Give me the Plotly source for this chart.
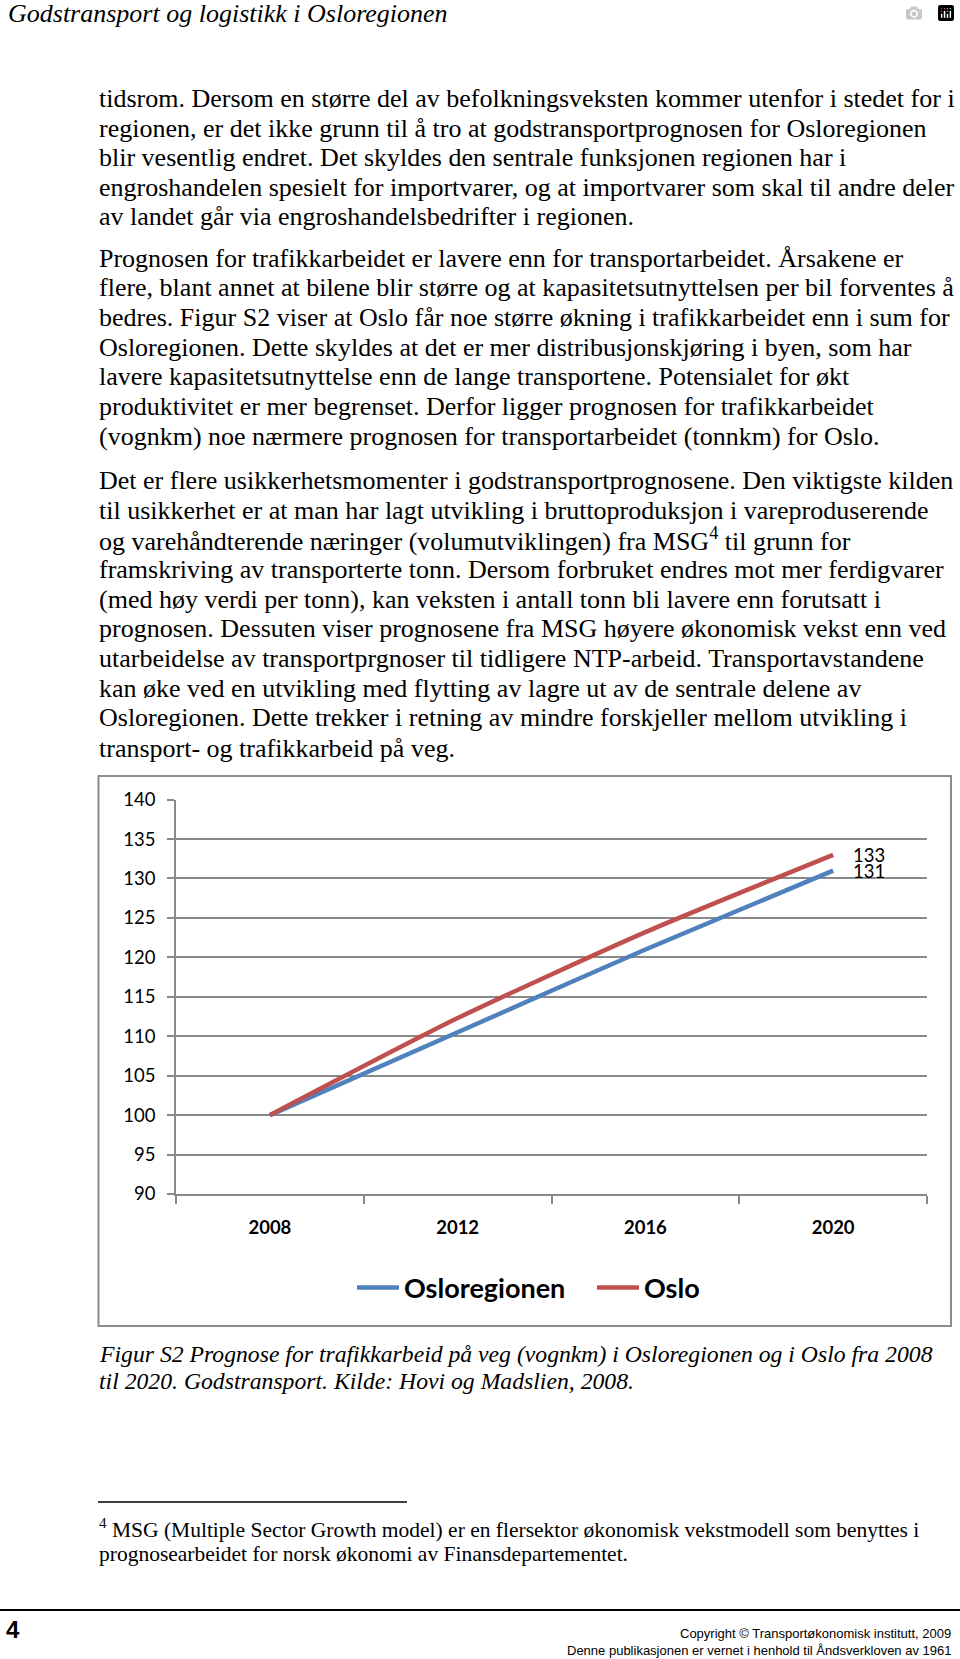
import plotly.graph_objects as go

years = ["2008", "2012", "2016", "2020"]
osloregionen = [100, 110.5, 121, 131]
oslo = [100, 112.3, 123.2, 133]
y_ticks = [90, 95, 100, 105, 110, 115, 120, 125, 130, 135, 140]

W, H = 960, 1659

header = "Godstransport og logistikk i Osloregionen"
body_lines = [
    (98.4, "tidsrom. Dersom en større del av befolkningsveksten kommer utenfor i stedet for i"),
    (128.1, "regionen, er det ikke grunn til å tro at godstransportprognosen for Osloregionen"),
    (157.7, "blir vesentlig endret. Det skyldes den sentrale funksjonen regionen har i"),
    (187.3, "engroshandelen spesielt for importvarer, og at importvarer som skal til andre deler"),
    (217.0, "av landet går via engroshandelsbedrifter i regionen."),
    (258.2, "Prognosen for trafikkarbeidet er lavere enn for transportarbeidet. Årsakene er"),
    (287.9, "flere, blant annet at bilene blir større og at kapasitetsutnyttelsen per bil forventes å"),
    (317.5, "bedres. Figur S2 viser at Oslo får noe større økning i trafikkarbeidet enn i sum for"),
    (347.2, "Osloregionen. Dette skyldes at det er mer distribusjonskjøring i byen, som har"),
    (376.8, "lavere kapasitetsutnyttelse enn de lange transportene. Potensialet for økt"),
    (406.4, "produktivitet er mer begrenset. Derfor ligger prognosen for trafikkarbeidet"),
    (436.1, "(vognkm) noe nærmere prognosen for transportarbeidet (tonnkm) for Oslo."),
    (480.5, "Det er flere usikkerhetsmomenter i godstransportprognosene. Den viktigste kilden"),
    (510.1, "til usikkerhet er at man har lagt utvikling i bruttoproduksjon i vareproduserende"),
    (539.8, "og varehåndterende næringer (volumutviklingen) fra MSG<sup>4</sup> til grunn for"),
    (569.4, "framskriving av transporterte tonn. Dersom forbruket endres mot mer ferdigvarer"),
    (599.1, "(med høy verdi per tonn), kan veksten i antall tonn bli lavere enn forutsatt i"),
    (628.7, "prognosen. Dessuten viser prognosene fra MSG høyere økonomisk vekst enn ved"),
    (658.3, "utarbeidelse av transportprgnoser til tidligere NTP-arbeid. Transportavstandene"),
    (688.0, "kan øke ved en utvikling med flytting av lagre ut av de sentrale delene av"),
    (717.6, "Osloregionen. Dette trekker i retning av mindre forskjeller mellom utvikling i"),
    (748.3, "transport- og trafikkarbeid på veg."),
]
caption_lines = [
    (1354.0, "Figur S2 Prognose for trafikkarbeid på veg (vognkm) i Osloregionen og i Oslo fra 2008"),
    (1381.2, "til 2020. Godstransport. Kilde: Hovi og Madslien, 2008."),
]
footnote_lines = [
    (1528.5, "<sup>4</sup> MSG (Multiple Sector Growth model) er en flersektor økonomisk vekstmodell som benyttes i"),
    (1553.5, "prognosearbeidet for norsk økonomi av Finansdepartementet."),
]
copyright_lines = [
    (1633.0, "Copyright © Transportøkonomisk institutt, 2009"),
    (1650.0, "Denne publikasjonen er vernet i henhold til Åndsverkloven av 1961"),
]

def py(y):
    return 1 - y / H

def px(x):
    return x / W

SERIF = "Liberation Serif, Times New Roman, serif"
SANS = "Lato, Carlito, Calibri, sans-serif"
NARROW = "Liberation Sans Narrow, Arial Narrow, Liberation Sans, sans-serif"
GRID = "#898989"

fig = go.Figure()
fig.add_trace(go.Scatter(x=years, y=osloregionen, name="Osloregionen", mode="lines",
                         line=dict(color="#4F81BD", width=4.5, shape="spline", smoothing=0.6)))
fig.add_trace(go.Scatter(x=years, y=oslo, name="Oslo", mode="lines",
                         line=dict(color="#C0504D", width=4.5, shape="spline", smoothing=0.6)))

ann = []
ann.append(dict(x=px(6), y=py(13), xref="paper", yref="paper", text=header, showarrow=False,
                xanchor="left", yanchor="middle",
                font=dict(family=SERIF, size=26, color="black", style="italic")))
for yy, t in body_lines:
    ann.append(dict(x=px(97), y=py(yy), xref="paper", yref="paper", text=t, showarrow=False,
                    xanchor="left", yanchor="middle", font=dict(family=SERIF, size=26, color="black")))
for yy, t in caption_lines:
    ann.append(dict(x=px(97), y=py(yy), xref="paper", yref="paper", text=t, showarrow=False,
                    xanchor="left", yanchor="middle",
                    font=dict(family=SERIF, size=23.7, color="black", style="italic")))
for yy, t in footnote_lines:
    ann.append(dict(x=px(97), y=py(yy), xref="paper", yref="paper", text=t, showarrow=False,
                    xanchor="left", yanchor="middle", font=dict(family=SERIF, size=21.5, color="black")))
for yy, t in copyright_lines:
    ann.append(dict(x=px(953), y=py(yy), xref="paper", yref="paper", text=t, showarrow=False,
                    xanchor="right", yanchor="middle", font=dict(family=NARROW, size=13, color="black")))
ann.append(dict(x=px(4), y=py(1629), xref="paper", yref="paper", text="<b>4</b>", showarrow=False,
                xanchor="left", yanchor="middle", font=dict(family=NARROW, size=24, color="black")))
# data labels at the last point of each series
last = len(years) - 1
for series in (osloregionen, oslo):
    ann.append(dict(x=last, y=series[last], xref="x", yref="y", text=str(round(series[last])),
                    showarrow=False, xanchor="left", yanchor="middle", xshift=18,
                    font=dict(family=SANS, size=18.5, color="black")))

shapes = [
    dict(type="rect", xref="paper", yref="paper", x0=px(98.5), x1=px(951), y0=py(776), y1=py(1326),
         line=dict(color="#8c8c8c", width=2), fillcolor="rgba(0,0,0,0)", layer="below"),
    dict(type="line", xref="paper", yref="paper", x0=px(98), x1=px(407), y0=py(1502), y1=py(1502),
         line=dict(color="black", width=1.5)),
    dict(type="line", xref="paper", yref="paper", x0=0, x1=1, y0=py(1610), y1=py(1610),
         line=dict(color="black", width=2)),
]

fig.update_layout(
    width=W, height=H,
    margin=dict(l=0, r=0, t=0, b=0, pad=0, autoexpand=False),
    paper_bgcolor="white", plot_bgcolor="white",
    showlegend=True,
    legend=dict(orientation="h", x=px(352), y=py(1288), xanchor="left", yanchor="middle",
                font=dict(family=SANS, size=27, color="black", weight="bold"),
                itemwidth=42, entrywidth=183, entrywidthmode="pixels",
                bgcolor="rgba(0,0,0,0)", traceorder="normal"),
    annotations=ann, shapes=shapes,
    xaxis=dict(domain=[px(176), px(927)], type="category", range=[-0.5, 3.5],
               tickson="boundaries", ticks="outside", ticklen=8, tickcolor=GRID, tickwidth=1.5,
               showline=True, linecolor=GRID, linewidth=1.5, showgrid=False,
               tickfont=dict(family=SANS, size=18.5, color="black", weight="bold"),
               ticklabelstandoff=16, fixedrange=True, automargin=False),
    yaxis=dict(domain=[py(1194), py(799.6)], range=[90, 140], tickvals=y_ticks,
               ticks="outside", ticklen=7, tickcolor=GRID, tickwidth=1.5,
               showline=True, linecolor=GRID, linewidth=1.5,
               showgrid=True, gridcolor=GRID, gridwidth=1.5, zeroline=False,
               tickfont=dict(family=SANS, size=18.5, color="black"),
               ticklabelstandoff=8, fixedrange=True, automargin=False),
)

fig.write_html("out.html", post_script="document.body.style.margin='0';")
